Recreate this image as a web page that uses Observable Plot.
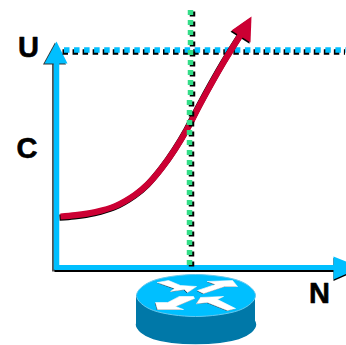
<!DOCTYPE html>
<html>
<head>
<meta charset="utf-8">
<script src="https://cdn.jsdelivr.net/npm/d3@7"></script>
<script src="https://cdn.jsdelivr.net/npm/@observablehq/plot@0.6"></script>
<style>html,body{margin:0;padding:0;background:#fff;overflow:hidden}svg{display:block}</style>
</head>
<body>
<div id="chart"></div>
<script>
const pts = a => a.map(([x, y]) => ({x, y}));
const curve = pts([[60,216],[75,214.7],[95,211.5],[115,205.5],[135,194],[148,183],[162,166.5],[175,148],[187,128],[200,103],[223,62],[241,33]]);
const curveHead = pts([[251,16],[231,30],[250,42]]);
const yAxisLine = pts([[56,269],[56,60]]);
const xAxisLine = pts([[54,267],[336,267]]);
const yAxisHead = pts([[56,41],[44,63],[67,63]]);
const xAxisHead = pts([[333,256],[360,267],[333,279]]);
const hGuide = pts([[63.5,49.5],[346,49.5]]);
const vGuideUpper = pts([[190,9.5],[190,99.5]]);
const vGuideLower = pts([[189,99.5],[189,268]]);
const labels = [{x:28,y:47.5,t:"U"},{x:26.5,y:148.5,t:"C"},{x:319,y:293,t:"N"}];
const discTop = pts([[136,295],[153,280],[195,274],[238,280],[255,295],[238,310],[195,316],[153,310]]);
const discBottom = pts([[136,324],[153,338],[195,343],[238,338],[255,324],[238,310],[195,305],[153,310]]);
const discSide = [{x1:136,x2:255,y1:295,y2:324}];
const arrowA = pts([[157,282],[168,280],[180,285],[196,286],[187,292],[184,289],[170,291],[174,288]]);
const arrowB = pts([[207,281],[232,280],[237,286],[224,286],[203,293],[197,290],[215,284]]);
const arrowC = pts([[179,296],[193,296],[194,298],[175,306],[183,309],[157,309],[155,302],[167,302]]);
const arrowD = pts([[196,303],[200,297],[223,296],[217,299],[235,308],[227,310],[207,302]]);

const BLUE = "#00bfff", RED = "#cc0033", GREEN = "#33dd88", DARK = "#0078a8", EDGE = "#66c8ee";
const guide = {x:"x", y:"y", strokeWidth:5.5, strokeDasharray:"5.5,4.55", strokeLinecap:"butt"};
const vguide = {...guide, strokeDasharray:"5,5"};
const poly = (data, o) => Plot.line(data, {x:"x", y:"y", curve:"linear-closed", ...o});

const chart = Plot.plot({
  width:346, height:345, margin:0,
  x:{domain:[0,346], range:[0,346], axis:null},
  y:{domain:[0,345], range:[0,345], axis:null},
  style:{background:"#fff"},
  marks:[
    // axes
    Plot.line(yAxisLine, {x:"x", y:"y", stroke:"#555", strokeWidth:6, strokeLinecap:"butt", dx:-1.5, dy:2}),
    Plot.line(xAxisLine, {x:"x", y:"y", stroke:"#000", strokeWidth:5, strokeLinecap:"butt", dy:2}),
    poly(yAxisHead, {fill:"#333", stroke:"none", dx:-1.5, dy:1}),
    poly(xAxisHead, {fill:"#000", stroke:"none", dy:1.5}),
    Plot.line(yAxisLine, {x:"x", y:"y", stroke:BLUE, strokeWidth:5.5, strokeLinecap:"butt"}),
    Plot.line(xAxisLine, {x:"x", y:"y", stroke:BLUE, strokeWidth:5, strokeLinecap:"butt"}),
    poly(yAxisHead, {fill:BLUE, stroke:"none"}),
    poly(xAxisHead, {fill:BLUE, stroke:"none"}),
    // horizontal guide
    Plot.line(hGuide, {...guide, stroke:"#000", dx:-1.5, dy:2}),
    Plot.line(hGuide, {...guide, stroke:BLUE}),
    // curve
    Plot.line(curve, {x:"x", y:"y", curve:"catmull-rom", stroke:"#000", strokeWidth:6.2, strokeLinecap:"butt", dx:-1, dy:1.2}),
    poly(curveHead, {fill:"#000", stroke:"none", dx:-1, dy:1.2}),
    Plot.line(curve, {x:"x", y:"y", curve:"catmull-rom", stroke:RED, strokeWidth:6.2, strokeLinecap:"butt"}),
    poly(curveHead, {fill:RED, stroke:"none"}),
    // vertical guide
    ...[vGuideUpper, vGuideLower].flatMap(g => [
      Plot.line(g, {...vguide, stroke:"#000", dx:2, dy:1.5}),
      Plot.line(g, {...vguide, stroke:GREEN})
    ]),
    // router
    Plot.line(discBottom, {x:"x", y:"y", curve:"cardinal-closed", fill:DARK, stroke:DARK}),
    Plot.rect(discSide, {x1:"x1", x2:"x2", y1:"y1", y2:"y2", fill:DARK}),
    Plot.line(discTop, {x:"x", y:"y", curve:"cardinal-closed", fill:BLUE, stroke:EDGE, strokeWidth:1}),
    ...[arrowA, arrowB, arrowC, arrowD].flatMap(a => [
      poly(a, {fill:"#123", stroke:"none", dx:-0.6, dy:0.6}),
      poly(a, {fill:"#fff", stroke:"#fff", strokeWidth:0.6})
    ]),
    // labels
    Plot.text(labels, {x:"x", y:"y", text:"t", fontSize:29, fontWeight:"bold", fontFamily:"Liberation Sans", fill:"#000", stroke:"#000", strokeWidth:0.6, textAnchor:"middle", lineAnchor:"middle"})
  ]
});
document.getElementById("chart").append(chart);
</script>
</body>
</html>
